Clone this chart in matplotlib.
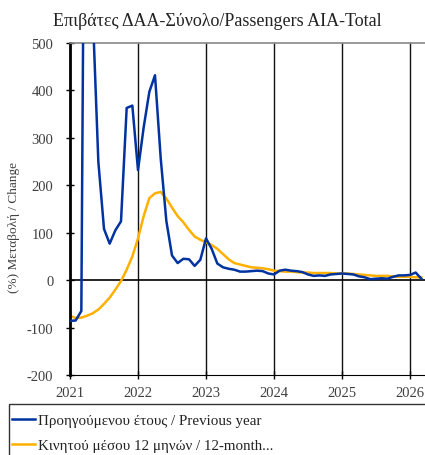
import numpy as np
import matplotlib
matplotlib.use('Agg')
import matplotlib.pyplot as plt
from matplotlib.patches import Rectangle

plt.rcParams['font.family'] = ['Liberation Serif', 'DejaVu Serif']
plt.rcParams['axes.unicode_minus'] = False

# monthly data, Jan 2021 - Mar 2026 (% change)
start_year = 2021
prev_year = [-86, -85, -65, 1800, 570, 250, 108, 77, 105, 124, 363, 368,
             232, 322, 397, 432, 258, 125, 52, 36, 45, 44, 30, 43,
             88, 66, 35, 27, 24, 22, 18, 18, 19, 20, 19, 14,
             12, 20, 22, 20, 19, 17, 12, 9, 10, 9, 12, 13,
             14, 13, 12, 8, 6, 2, 3, 4, 3, 7, 10, 10,
             11, 16, 3]
moving_avg = [-75, -80, -79, -75, -70, -62, -50, -37, -20, -2, 22, 50,
              88, 135, 173, 183, 186, 172, 153, 135, 122, 106, 92, 85,
              80, 74, 66, 55, 44, 36, 33, 30, 27, 26, 25, 23,
              20, 19, 18, 18, 17, 16, 16, 15, 15, 15, 15, 14,
              14, 14, 13, 12, 11, 10, 9, 9, 9, 8, 7, 7,
              7, 6, 6]
years = [2021, 2022, 2023, 2024, 2025, 2026]
y_ticks = [-200, -100, 0, 100, 200, 300, 400, 500]

title = 'Επιβάτες ΔΑΑ-Σύνολο/Passengers AIA-Total'
ylabel = '(%) Μεταβολή / Change'
label_prev = 'Προηγούμενου έτους / Previous year'
label_avg = 'Κινητού μέσου 12 μηνών / 12-month...'

x = start_year + np.arange(len(prev_year)) / 12.0

fig = plt.figure(figsize=(4.25, 4.56), dpi=100)
ax = fig.add_axes([70 / 425, 1 - 376 / 456, 355 / 425, 332 / 456])

# year gridlines and zero line
for yr in years[1:]:
    ax.axvline(yr, color='#111111', linewidth=1.0, zorder=1)
ax.axhline(0, color='black', linewidth=1.2, zorder=1)

ax.plot(x, prev_year, color='#0033a0', linewidth=1.8, label=label_prev, zorder=3)
ax.plot(x, moving_avg, color='#ffb000', linewidth=1.8, label=label_avg, zorder=2)

ax.set_xlim(2021, 2021 + 355 / 68)
ax.set_ylim(-200, 500)
ax.set_xticks(years)
ax.set_yticks(y_ticks)
ax.tick_params(axis='y', direction='inout', length=6, width=1, pad=9, labelsize=10.5,
               color='black', labelcolor='#404040')
ax.tick_params(axis='x', direction='inout', length=6, width=1, pad=5, labelsize=10.5,
               color='black', labelcolor='#404040')

ax.spines['left'].set_linewidth(2)
ax.spines['left'].set_color('black')
ax.spines['bottom'].set_color('black')
ax.spines['top'].set_color('#888888')
ax.spines['top'].set_linewidth(1.2)
ax.spines['right'].set_visible(False)

ax.set_ylabel(ylabel, fontsize=9.5, color='#404040')
ax.yaxis.set_label_coords(-50 / 355, 0.446)

fig.text(217 / 425, 1 - 22 / 456, title, ha='center', va='center', fontsize=13, color='#222222')

# legend box running off the right and bottom edges
fig.patches.append(Rectangle((8.5 / 425, -0.1), 1.0, 1 - 405 / 456 + 0.1, transform=fig.transFigure,
                             fill=False, edgecolor='#333333', linewidth=1))
fig.legend(loc='upper left', bbox_to_anchor=(12 / 425, 1 - 415 / 456), frameon=False, fontsize=10.8,
           handlelength=1.5, handletextpad=0.25, borderaxespad=0, borderpad=0,
           labelspacing=0.75, labelcolor='#222222')

fig.savefig('out.png', dpi=100)
